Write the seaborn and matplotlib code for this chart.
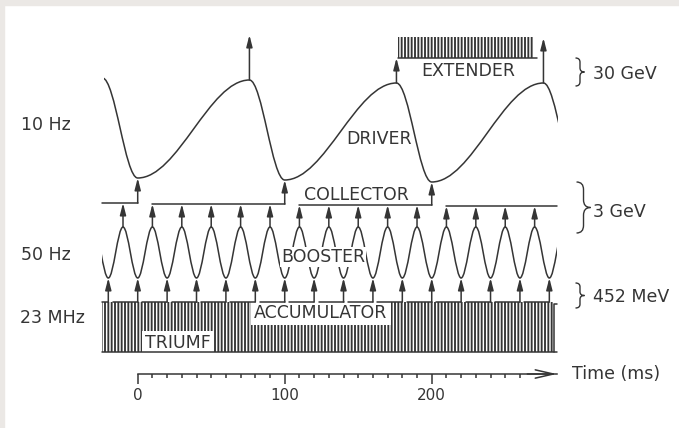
import matplotlib
matplotlib.use("Agg")
import matplotlib.pyplot as plt
import pandas as pd
import seaborn as sns
from matplotlib.path import Path
from matplotlib.patches import PathPatch, Rectangle

# ---------------- data ----------------
# time in ms; vertical level in diagram units (0 = top of drawing, grows downward)
TIME_MAJOR = [0, 100, 200]
TIME_MAJOR_LABELS = ["0", "100", "200"]
TIME_MINOR = [10, 20, 30, 40, 50, 60, 70, 80, 90, 110, 120, 130, 140, 150,
              160, 170, 180, 190, 210, 220, 230, 240, 250, 260]
TIME_AXIS_END = 285

# DRIVER (10 Hz): alternating maxima / minima
DRIVER_T = [-24, 0, 76, 100, 176, 200, 276, 300]
DRIVER_Y = [78, 178, 80, 180, 83, 182, 83, 184]
DRIVER_VISIBLE = (-23, 286)

# BOOSTER (50 Hz): peaks and troughs
BOOSTER_PEAKS_T = [-30, -10, 10, 30, 50, 70, 90, 110, 130, 150, 170, 190, 210,
                   230, 250, 270, 290]
BOOSTER_TROUGHS_T = [-20, 0, 20, 40, 60, 80, 100, 120, 140, 160, 180, 200, 220,
                     240, 260, 280]
BOOSTER_PEAK_Y = 227
BOOSTER_TROUGH_Y = 278
BOOSTER_VISIBLE = (-24.3, 285)

# COLLECTOR fills (3 GeV level)
COLLECTOR_START = [-24, 10, 110, 210]
COLLECTOR_END = [0, 100, 200, 285]
COLLECTOR_Y = [203, 204, 205, 206]
COLLECTOR_TRANSFER_T = [0, 100, 200]

# ACCUMULATOR band (452 MeV)
ACC_SPAN = (-24.3, 282.5)
ACC_BRACKET_T = 283.2
ACC_TOP = 302
ACC_BOTTOM = 352

# EXTENDER band (30 GeV)
EXT_SPAN = (177, 269)
EXT_LINE_END = 271.5
EXT_TOP = 37
EXT_BOTTOM = 58

# DRIVER extraction arrows
EXTRACT_T = [76, 176, 276]
EXTRACT_FROM = [80, 83, 83]
EXTRACT_TO = [35, 58, 38]

# ---------------- styling ----------------
sns.set_theme(style="white")
plt.rcParams["font.family"] = ["DejaVu Sans"]
LINE = "#353535"
TEXT = "#353535"
LW = 1.1
plt.rcParams["hatch.linewidth"] = 1.35
plt.rcParams["hatch.color"] = LINE

fig = plt.figure(figsize=(6.79, 4.28), dpi=100, facecolor="white")
ax = fig.add_axes([0, 54 / 428, 1, 374 / 428])
ax.set_facecolor("white")


def smooth_path(ts, ys, frac=0.36):
    verts = [(ts[0], ys[0])]
    codes = [Path.MOVETO]
    for i in range(len(ts) - 1):
        dt = ts[i + 1] - ts[i]
        verts += [(ts[i] + frac * dt, ys[i]),
                  (ts[i + 1] - frac * dt, ys[i + 1]),
                  (ts[i + 1], ys[i + 1])]
        codes += [Path.CURVE4] * 3
    return Path(verts, codes)


def draw_curve(ts, ys, span):
    patch = PathPatch(smooth_path(ts, ys), facecolor="none", edgecolor=LINE,
                      lw=LW, zorder=3)
    ax.add_patch(patch)
    clip = Rectangle((span[0], -50), span[1] - span[0], 500,
                     transform=ax.transData)
    patch.set_clip_path(clip)


def arrow(t, y_from, y_to):
    ax.annotate("", xy=(t, y_to), xytext=(t, y_from),
                arrowprops=dict(arrowstyle="-|>,head_length=0.7,head_width=0.18",
                                color=LINE, lw=LW, shrinkA=0, shrinkB=0,
                                mutation_scale=10),
                zorder=3)


def brace(x0, x1, ytop, ybot):
    xm = (x0 + x1) / 2
    ym = (ytop + ybot) / 2
    h = ybot - ytop
    verts = [(x0, ytop), (xm, ytop), (xm, ytop + 0.15 * h),
             (xm, ym - 0.15 * h), (xm, ym), (x1, ym),
             (xm, ym), (xm, ym + 0.15 * h),
             (xm, ybot - 0.15 * h), (xm, ybot), (x0, ybot)]
    codes = [Path.MOVETO, Path.CURVE3, Path.CURVE3,
             Path.LINETO, Path.CURVE3, Path.CURVE3,
             Path.CURVE3, Path.CURVE3,
             Path.LINETO, Path.CURVE3, Path.CURVE3]
    ax.add_patch(PathPatch(Path(verts, codes), facecolor="none",
                           edgecolor=LINE, lw=1.0, clip_on=False))


# ---- DRIVER ----
draw_curve(DRIVER_T, DRIVER_Y, DRIVER_VISIBLE)
for t, y0, y1 in zip(EXTRACT_T, EXTRACT_FROM, EXTRACT_TO):
    arrow(t, y0, y1)

# ---- EXTENDER ----
ax.add_patch(Rectangle((EXT_SPAN[0], EXT_TOP), EXT_SPAN[1] - EXT_SPAN[0],
                       EXT_BOTTOM - EXT_TOP, facecolor="none", edgecolor=LINE,
                       lw=0, hatch="|||||", zorder=1))
ax.plot([EXT_SPAN[0], EXT_LINE_END], [EXT_BOTTOM, EXT_BOTTOM], color=LINE,
        lw=LW, zorder=3)

# ---- BOOSTER ----
b_pts = sorted([(t, BOOSTER_PEAK_Y) for t in BOOSTER_PEAKS_T] +
               [(t, BOOSTER_TROUGH_Y) for t in BOOSTER_TROUGHS_T])
draw_curve([p[0] for p in b_pts], [p[1] for p in b_pts], BOOSTER_VISIBLE)

# ---- COLLECTOR (seaborn step lines) ----
rows = []
for i, (s, e, y) in enumerate(zip(COLLECTOR_START, COLLECTOR_END, COLLECTOR_Y)):
    rows += [(s, y, i), (e, y, i)]
coll = pd.DataFrame(rows, columns=["t", "level", "seg"])
sns.lineplot(data=coll, x="t", y="level", units="seg", estimator=None,
             sort=False, color=LINE, lw=LW, ax=ax, legend=False, zorder=3)

driver_min = dict(zip(DRIVER_T, DRIVER_Y))
for t in COLLECTOR_TRANSFER_T:
    lvl = COLLECTOR_Y[COLLECTOR_END.index(t)]
    arrow(t, lvl, driver_min[t])

for t in BOOSTER_PEAKS_T:
    for s, e, y in zip(COLLECTOR_START, COLLECTOR_END, COLLECTOR_Y):
        if s <= t <= e:
            arrow(t, BOOSTER_PEAK_Y, y)

# ---- ACCUMULATOR ----
ax.add_patch(Rectangle((ACC_SPAN[0], ACC_TOP), ACC_SPAN[1] - ACC_SPAN[0],
                       ACC_BOTTOM - ACC_TOP, facecolor="none", edgecolor=LINE,
                       lw=0, hatch="|||||", zorder=1))
rows = []
prev = None
for i, t in enumerate(BOOSTER_TROUGHS_T):
    start = ACC_SPAN[0] if prev is None else prev + 3
    rows += [(start, ACC_TOP, i), (t, ACC_TOP, i)]
    prev = t
acc = pd.DataFrame(rows, columns=["t", "level", "seg"])
sns.lineplot(data=acc, x="t", y="level", units="seg", estimator=None,
             sort=False, color=LINE, lw=LW, ax=ax, legend=False, zorder=3)
for t in BOOSTER_TROUGHS_T:
    arrow(t, ACC_TOP, BOOSTER_TROUGH_Y)
ax.plot([ACC_SPAN[0], TIME_AXIS_END], [ACC_BOTTOM, ACC_BOTTOM], color=LINE,
        lw=LW, zorder=3)
ax.plot([TIME_AXIS_END, ACC_BRACKET_T, ACC_BRACKET_T],
        [ACC_TOP + 2, ACC_TOP + 2, ACC_BOTTOM], color=LINE, lw=LW, zorder=3)

# ---- labels ----
FS = 12.5
lab = dict(fontsize=FS, color=TEXT, ha="center", va="baseline")
ax.text(224.7, 75.5, "EXTENDER", **lab)
ax.text(164, 143.5, "DRIVER", **lab)
ax.text(149, 200, "COLLECTOR", **lab)
ax.text(126, 262, "BOOSTER", zorder=5,
        bbox=dict(facecolor="white", edgecolor="none", pad=0.5), **lab)
ax.text(124.7, 318, "ACCUMULATOR", zorder=2,
        bbox=dict(facecolor="white", edgecolor="none", pad=2.5), **lab)
ax.text(27.4, 348, "TRIUMF", zorder=2,
        bbox=dict(facecolor="white", edgecolor="none", pad=2.5), **lab)

left = dict(fontsize=FS, color=TEXT, ha="left", va="baseline")
ax.text(-79.5, 130, "10 Hz", **left)
ax.text(-79.5, 260, "50 Hz", **left)
ax.text(-80, 323, "23 MHz", **left)

right = dict(fontsize=FS, color=TEXT, ha="left", va="baseline", clip_on=False)
brace(297.8, 303.9, 58, 86)
ax.text(309.7, 79, "30 GeV", **right)
brace(298.5, 308.0, 182, 233)
ax.text(309.7, 217, "3 GeV", **right)
brace(297.8, 303.9, 283, 308)
ax.text(309.7, 302, "452 MeV", **right)
ax.text(295.4, 379, "Time (ms)", **right)

# ---- time axis (bottom spine) ----
ax.set_xlim(-93.67, 368.2)
ax.set_ylim(374, 0)
for side in ["top", "left", "right"]:
    ax.spines[side].set_visible(False)
ax.spines["bottom"].set_bounds(0, TIME_AXIS_END)
ax.spines["bottom"].set_color(LINE)
ax.spines["bottom"].set_linewidth(LW)
ax.set_xticks(TIME_MAJOR, TIME_MAJOR_LABELS)
ax.set_xticks(TIME_MINOR, minor=True)
ax.set_yticks([])
ax.tick_params(axis="x", which="major", bottom=True, length=7.2, width=LW,
               color=LINE, direction="out", pad=3, labelsize=11,
               labelcolor=TEXT)
ax.tick_params(axis="x", which="minor", bottom=True, length=3.2, width=LW,
               color=LINE, direction="out")
ax.set_xlabel("")
ax.set_ylabel("")
ax.annotate("", xy=(TIME_AXIS_END, 374), xytext=(TIME_AXIS_END - 20, 374),
            arrowprops=dict(arrowstyle="->,head_length=1.3,head_width=0.3",
                            color=LINE, lw=LW, shrinkA=0, shrinkB=0,
                            mutation_scale=10),
            annotation_clip=False)

# scanned-page border
GRAY = "#ebe8e5"
fig.patches.append(Rectangle((0, 1 - 5 / 428), 1, 5 / 428,
                             transform=fig.transFigure, color=GRAY, zorder=10))
fig.patches.append(Rectangle((0, 0), 4 / 679, 1,
                             transform=fig.transFigure, color=GRAY, zorder=10))

fig.savefig("out.png", dpi=100, facecolor="white")
